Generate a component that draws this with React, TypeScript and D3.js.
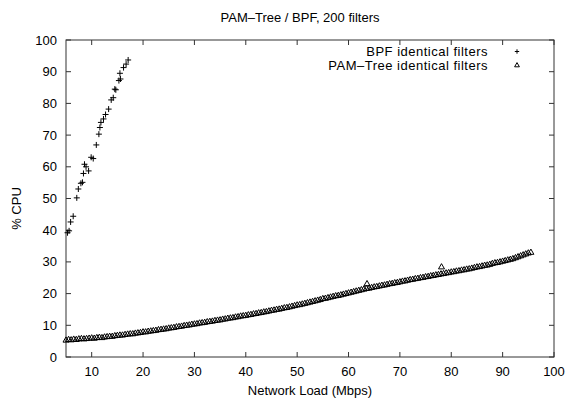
import React from "react";
import * as d3 from "d3";

const title = "PAM\u2013Tree / BPF, 200 filters";
const xLabel = "Network Load (Mbps)";
const yLabel = "% CPU";
const xTicks = [10, 20, 30, 40, 50, 60, 70, 80, 90, 100];
const yTicks = [0, 10, 20, 30, 40, 50, 60, 70, 80, 90, 100];
const seriesNames = ["BPF identical filters", "PAM\u2013Tree identical filters"];

// BPF identical filters: [load, cpu]
const bpfPoints: [number, number][] = [
  [5.3, 39.2], [5.6, 39.8], [5.9, 42.6], [6.4, 44.4], [7.1, 50.2], [7.4, 53.0],
  [7.9, 54.8], [8.2, 55.1], [8.4, 57.9], [8.6, 60.8], [8.9, 60.0], [9.4, 58.7],
  [9.9, 63.0], [10.3, 62.6], [10.9, 66.9], [11.4, 70.3], [11.6, 72.4], [11.8, 74.0],
  [12.3, 75.1], [12.7, 76.5], [13.3, 78.2], [13.8, 81.1], [14.2, 81.8], [14.5, 84.5],
  [14.7, 84.3], [15.3, 87.2], [15.6, 87.7], [15.5, 89.5], [16.2, 91.3], [16.7, 92.4],
  [17.1, 93.7],
];

// PAM-Tree identical filters: [load, cpu]
const pamPoints: [number, number][] = [
  [5.0, 5.4], [5.5, 5.6], [6.0, 5.5], [6.5, 5.7], [7.0, 5.6], [7.5, 5.8], [8.0, 5.9], [8.5, 5.8], [9.0, 5.9], [9.5, 6.0],
  [10.0, 6.1], [10.5, 6.0], [11.0, 6.2], [11.5, 6.3], [12.0, 6.2], [12.5, 6.4], [13.0, 6.5], [13.5, 6.6], [14.0, 6.6], [14.5, 6.8],
  [15.0, 6.9], [15.5, 7.0], [16.0, 7.0], [16.5, 7.2], [17.0, 7.3], [17.5, 7.4], [18.0, 7.4], [18.5, 7.6], [19.0, 7.7], [19.5, 7.8],
  [20.0, 8.0], [20.5, 8.0], [21.0, 8.2], [21.5, 8.3], [22.0, 8.4], [22.5, 8.5], [23.0, 8.7], [23.5, 8.8], [24.0, 8.9], [24.5, 9.0],
  [25.0, 9.2], [25.5, 9.3], [26.0, 9.4], [26.5, 9.6], [27.0, 9.7], [27.5, 9.8], [28.0, 10.0], [28.5, 10.1], [29.0, 10.2], [29.5, 10.4],
  [30.0, 10.5], [30.5, 10.6], [31.0, 10.8], [31.5, 10.9], [32.0, 11.0], [32.5, 11.2], [33.0, 11.3], [33.5, 11.4], [34.0, 11.6], [34.5, 11.7],
  [35.0, 11.8], [35.5, 12.0], [36.0, 12.1], [36.5, 12.3], [37.0, 12.4], [37.5, 12.5], [38.0, 12.7], [38.5, 12.8], [39.0, 13.0], [39.5, 13.1],
  [40.0, 13.2], [40.5, 13.4], [41.0, 13.5], [41.5, 13.7], [42.0, 13.8], [42.5, 14.0], [43.0, 14.1], [43.5, 14.3], [44.0, 14.4], [44.5, 14.6],
  [45.0, 14.8], [45.5, 14.9], [46.0, 15.1], [46.5, 15.2], [47.0, 15.4], [47.5, 15.6], [48.0, 15.7], [48.5, 15.9], [49.0, 16.1], [49.5, 16.3],
  [50.0, 16.5], [50.5, 16.6], [51.0, 16.8], [51.5, 17.0], [52.0, 17.2], [52.5, 17.4], [53.0, 17.6], [53.5, 17.8], [54.0, 18.0], [54.5, 18.2],
  [55.0, 18.5], [55.5, 18.6], [56.0, 18.8], [56.5, 19.0], [57.0, 19.2], [57.5, 19.4], [58.0, 19.5], [58.5, 19.7], [59.0, 19.9], [59.5, 20.1],
  [60.0, 20.3], [60.5, 20.5], [61.0, 20.7], [61.5, 20.9], [62.0, 21.1], [62.5, 21.3], [63.0, 21.5], [63.6, 23.2], [63.5, 21.7], [64.0, 21.8], [64.5, 22.0],
  [65.0, 22.2], [65.5, 22.3], [66.0, 22.5], [66.5, 22.7], [67.0, 22.8], [67.5, 23.0], [68.0, 23.2], [68.5, 23.3], [69.0, 23.5], [69.5, 23.6],
  [70.0, 23.8], [70.5, 24.0], [71.0, 24.1], [71.5, 24.3], [72.0, 24.5], [72.5, 24.6], [73.0, 24.8], [73.5, 24.9], [74.0, 25.1], [74.5, 25.2],
  [75.0, 25.4], [75.5, 25.5], [76.0, 25.7], [76.5, 25.8], [77.0, 26.0], [77.5, 26.1], [78.1, 28.5], [78.0, 26.3], [78.5, 26.4], [79.0, 26.6], [79.5, 26.7],
  [80.0, 26.9], [80.5, 27.0], [81.0, 27.2], [81.5, 27.3], [82.0, 27.5], [82.5, 27.6], [83.0, 27.8], [83.5, 27.9], [84.0, 28.1], [84.5, 28.3],
  [85.0, 28.5], [85.5, 28.6], [86.0, 28.8], [86.5, 29.0], [87.0, 29.1], [87.5, 29.3], [88.0, 29.6], [88.5, 29.8], [89.0, 29.9], [89.5, 30.1],
  [90.0, 30.3], [90.5, 30.5], [91.0, 30.7], [91.5, 30.9], [92.0, 31.1], [92.5, 31.4], [93.0, 31.7], [93.5, 32.0], [94.0, 32.3], [94.5, 32.6],
  [95.0, 32.9], [95.5, 33.1],
];

const W = 566;
const H = 400;
const M = { left: 66, right: 554, top: 40, bottom: 357 };
const FONT = "'Liberation Sans', Arial, Helvetica, sans-serif";
const AXIS = "#333";

export default function App() {
  const x = d3.scaleLinear().domain([5, 100]).range([M.left, M.right]);
  const y = d3.scaleLinear().domain([0, 100]).range([M.bottom, M.top]);
  const tk = 5;

  const plus = (cx: number, cy: number, key: string, s = 3) => (
    <path key={key} d={`M${cx - s},${cy}H${cx + s}M${cx},${cy - s}V${cy + s}`} stroke="#000" strokeWidth={1} fill="none" />
  );
  const tri = (cx: number, cy: number, key: string, s = 3) => (
    <path key={key} d={`M${cx - s},${cy + s * 0.75}L${cx + s},${cy + s * 0.75}L${cx},${cy - s}Z`} stroke="#000" strokeWidth={1} fill="none" />
  );

  return (
    <svg width={W} height={H} style={{ position: "absolute", left: 0, top: 0, background: "#fff" }} fontFamily={FONT}>
      <rect x={0} y={0} width={W} height={H} fill="#fff" />
      <text x={300} y={22} fontSize={13} textAnchor="middle">{title}</text>

      {xTicks.map((t) => (
        <g key={"x" + t}>
          <line x1={x(t)} x2={x(t)} y1={M.bottom} y2={M.bottom - tk} stroke={AXIS} />
          <line x1={x(t)} x2={x(t)} y1={M.top} y2={M.top + tk} stroke={AXIS} />
          <text x={x(t)} y={376} fontSize={13} textAnchor="middle">{t}</text>
        </g>
      ))}
      {yTicks.map((t) => (
        <g key={"y" + t}>
          <line x1={M.left} x2={M.left + tk} y1={y(t)} y2={y(t)} stroke={AXIS} />
          <line x1={M.right} x2={M.right - tk} y1={y(t)} y2={y(t)} stroke={AXIS} />
          <text x={57} y={y(t) + 4.5} fontSize={13} textAnchor="end">{t}</text>
        </g>
      ))}
      <rect x={M.left} y={M.top} width={M.right - M.left} height={M.bottom - M.top} fill="none" stroke={AXIS} strokeWidth={1} />

      <text x={310} y={395} fontSize={13} textAnchor="middle">{xLabel}</text>
      <text transform={`translate(21,${(M.top + M.bottom) / 2 + 10}) rotate(-90)`} fontSize={13} textAnchor="middle">{yLabel}</text>

      <text x={488} y={56} fontSize={13} letterSpacing={0.5} textAnchor="end">{seriesNames[0]}</text>
      {plus(517, 51.5, "lp", 2.2)}
      <text x={488} y={69.5} fontSize={13} letterSpacing={0.5} textAnchor="end">{seriesNames[1]}</text>
      {tri(517, 65, "lt", 2.4)}

      <g>{pamPoints.map((p, i) => tri(x(p[0]), y(p[1]), "t" + i))}</g>
      <g>{bpfPoints.map((p, i) => plus(x(p[0]), y(p[1]), "p" + i))}</g>
    </svg>
  );
}
